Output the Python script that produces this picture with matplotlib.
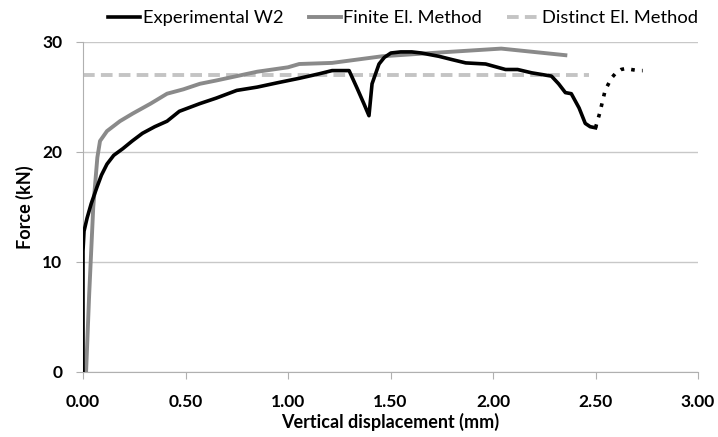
import numpy as np
import matplotlib.pyplot as plt

plt.rcParams['font.family'] = ['Lato', 'DejaVu Sans']

# Experimental W2 (solid part)
exp_x = [0.0, 0.0, 0.005, 0.02, 0.04, 0.068, 0.09, 0.117, 0.15, 0.194, 0.24, 0.29, 0.35,
         0.41, 0.47, 0.57, 0.65, 0.75, 0.85, 0.95, 1.055, 1.15, 1.215, 1.298, 1.337,
         1.37, 1.395, 1.41, 1.444, 1.47, 1.502, 1.55, 1.604, 1.65, 1.736, 1.80, 1.867,
         1.964, 2.061, 2.12, 2.188, 2.285, 2.32, 2.353, 2.382, 2.42, 2.45, 2.474, 2.5]
exp_y = [0.0, 11.0, 12.8, 14.0, 15.3, 16.8, 17.9, 18.9, 19.7, 20.3, 21.0, 21.7, 22.3,
         22.8, 23.7, 24.4, 24.9, 25.6, 25.9, 26.3, 26.7, 27.1, 27.4, 27.4, 25.8,
         24.4, 23.3, 26.2, 28.0, 28.6, 29.0, 29.1, 29.1, 29.0, 28.7, 28.4, 28.1,
         28.0, 27.5, 27.5, 27.2, 26.9, 26.2, 25.4, 25.3, 24.0, 22.6, 22.3, 22.2]

# Experimental W2 (dotted continuation)
dot_x = [2.5, 2.52, 2.547, 2.577, 2.60, 2.625, 2.65, 2.674, 2.708, 2.73]
dot_y = [22.2, 23.5, 25.6, 26.7, 27.2, 27.5, 27.6, 27.5, 27.4, 27.4]

# Finite El. Method
fem_x = [0.015, 0.03, 0.05, 0.07, 0.083, 0.117, 0.18, 0.243, 0.33, 0.41, 0.49, 0.57,
         0.65, 0.75, 0.85, 1.0, 1.055, 1.215, 1.458, 1.70, 2.04, 2.353]
fem_y = [0.0, 7.0, 15.0, 19.5, 21.0, 21.9, 22.8, 23.5, 24.4, 25.3, 25.7, 26.2,
         26.5, 26.9, 27.3, 27.7, 28.0, 28.1, 28.7, 29.0, 29.4, 28.8]

# Distinct El. Method
dem_x = [0.0, 2.47]
dem_y = [27.0, 27.0]

fig = plt.figure(figsize=(7.18, 4.37), dpi=100)
ax = fig.add_axes([83 / 718, 1 - 372 / 437, 615 / 718, 330 / 437])

ax.plot(dem_x, dem_y, color='#c4c4c4', lw=2.8, ls=(0, (3, 1.6)), label='Distinct El. Method', zorder=2)
ax.plot(fem_x, fem_y, color='#8a8a8a', lw=2.8, label='Finite El. Method', zorder=3)
ax.plot(exp_x, exp_y, color='black', lw=2.6, label='Experimental W2', zorder=4)
ax.plot(dot_x, dot_y, color='black', lw=2.6, ls=(0, (1, 2)), zorder=4)

ax.set_xlim(0, 3)
ax.set_ylim(0, 30)
ax.set_xticks(np.arange(0, 3.01, 0.5))
ax.set_xticklabels([f'{v:.2f}' for v in np.arange(0, 3.01, 0.5)])
ax.set_yticks([0, 10, 20, 30])
ax.grid(axis='y', color='#c8c8c8', lw=1)
ax.set_axisbelow(True)
for s in ['top', 'right']:
    ax.spines[s].set_visible(False)
for s in ['left', 'bottom']:
    ax.spines[s].set_color('#b0b0b0')
ax.tick_params(axis='both', colors='#b0b0b0', length=5, labelcolor='black', labelsize=12.5)
ax.tick_params(axis='x', pad=11)
ax.tick_params(axis='y', pad=10)
for lab in ax.get_xticklabels() + ax.get_yticklabels():
    lab.set_fontweight('bold')
ax.set_xlabel('Vertical displacement (mm)', fontsize=13, fontweight='bold', labelpad=2)
ax.set_ylabel('Force (kN)', fontsize=13, fontweight='bold', labelpad=6)

h, l = ax.get_legend_handles_labels()
order = [2, 1, 0]
fig.legend([h[i] for i in order], [l[i] for i in order], loc='center',
           bbox_to_anchor=(403 / 718, 1 - 18 / 437), ncol=3, frameon=False, fontsize=13.2,
           handlelength=1.75, handletextpad=0.15, columnspacing=1.35, borderpad=0)

fig.savefig('out.png', dpi=100)
